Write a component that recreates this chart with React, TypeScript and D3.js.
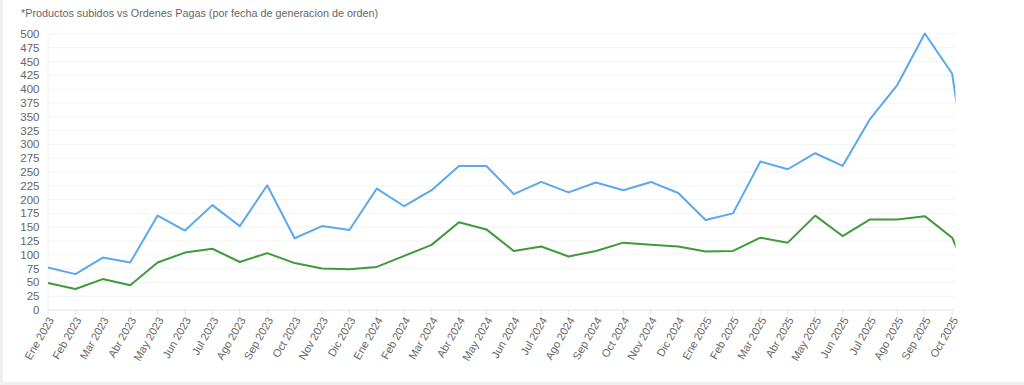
import React from "react";
import * as d3 from "d3";

const months: string[] = [
  "Ene 2023", "Feb 2023", "Mar 2023", "Abr 2023", "May 2023", "Jun 2023", "Jul 2023", "Ago 2023", "Sep 2023", "Oct 2023", "Nov 2023", "Dic 2023",
  "Ene 2024", "Feb 2024", "Mar 2024", "Abr 2024", "May 2024", "Jun 2024", "Jul 2024", "Ago 2024", "Sep 2024", "Oct 2024", "Nov 2024", "Dic 2024",
  "Ene 2025", "Feb 2025", "Mar 2025", "Abr 2025", "May 2025", "Jun 2025", "Jul 2025", "Ago 2025", "Sep 2025", "Oct 2025",
];
// partial month beyond the visible range (clipped at the right edge)
const hiddenMonth = "Nov 2025";

const productosSubidos: number[] = [
  77, 65, 95, 86, 171, 144, 190, 152, 226, 130, 152, 145,
  220, 188, 217, 261, 261, 210, 232, 213, 231, 217, 232, 212,
  163, 175, 269, 255, 284, 261, 346, 408, 501, 428,
  90,
];
const ordenesPagas: number[] = [
  49, 38, 56, 45, 86, 104, 111, 87, 103, 85, 75, 74,
  78, 98, 118, 159, 146, 107, 115, 97, 107, 122, 118, 115,
  106, 107, 131, 122, 171, 134, 164, 164, 170, 131,
  15,
];
const yTicks: number[] = d3.range(0, 501, 25);

const title = "*Productos subidos vs Ordenes Pagas (por fecha de generacion de orden)";

const W = 1024, H = 385;
const left = 48, right = 952.2, top = 34, bottom = 310;
const FONT = "'Liberation Sans', Arial, Helvetica, sans-serif";

export default function App() {
  const allLabels = [...months, hiddenMonth];
  const x = d3.scaleLinear().domain([0, months.length - 1]).range([left, right]);
  const y = d3.scaleLinear().domain([0, 500]).range([bottom, top]);
  const line = d3.line<number>().x((_, i) => x(i)).y((d) => y(d));

  return (
    <svg width={W} height={H} style={{ position: "absolute", left: 0, top: 0, background: "#fff" }}>
      <defs>
        <clipPath id="plotClip">
          <rect x={left - 2} y={0} width={955.5 - left + 2} height={H} />
        </clipPath>
      </defs>
      <rect x={0} y={0} width={W} height={H} fill="#fff" />
      <rect x={0} y={0} width={3} height={H} fill="#efefef" />
      <rect x={0} y={382} width={W} height={3} fill="#efefef" />
      <text x={21} y={17} fontFamily={FONT} fontSize={10.8} fill="#666">{title}</text>

      {yTicks.map((t) => (
        <g key={t}>
          <line x1={left} x2={955} y1={y(t)} y2={y(t)} stroke={t === 0 ? "#e6e6e6" : "#f3f3f3"} strokeWidth={1} />
          <text x={39.5} y={y(t)} dy="0.35em" textAnchor="end" fontFamily={FONT} fontSize={11.5} fill="#666">{t}</text>
        </g>
      ))}
      <line x1={left} x2={left} y1={top} y2={bottom} stroke="#f0f0f0" />

      {months.map((m, i) => (
        <g key={m}>
          <line x1={x(i)} x2={x(i)} y1={bottom} y2={bottom + 5} stroke="#e6e6e6" />
          <text
            transform={`translate(${x(i) + 3},${bottom + 8}) rotate(-60)`}
            textAnchor="end"
            dy="0.35em"
            fontFamily={FONT}
            fontSize={11}
            fill="#666"
          >
            {m}
          </text>
        </g>
      ))}

      <g clipPath="url(#plotClip)">
        <path d={line(productosSubidos) || ""} fill="none" stroke="#5aa8ee" strokeWidth={2} strokeLinejoin="round" />
        <path d={line(ordenesPagas) || ""} fill="none" stroke="#3f9a3c" strokeWidth={2} strokeLinejoin="round" />
      </g>
      <desc>{allLabels.join(",")}</desc>
    </svg>
  );
}
